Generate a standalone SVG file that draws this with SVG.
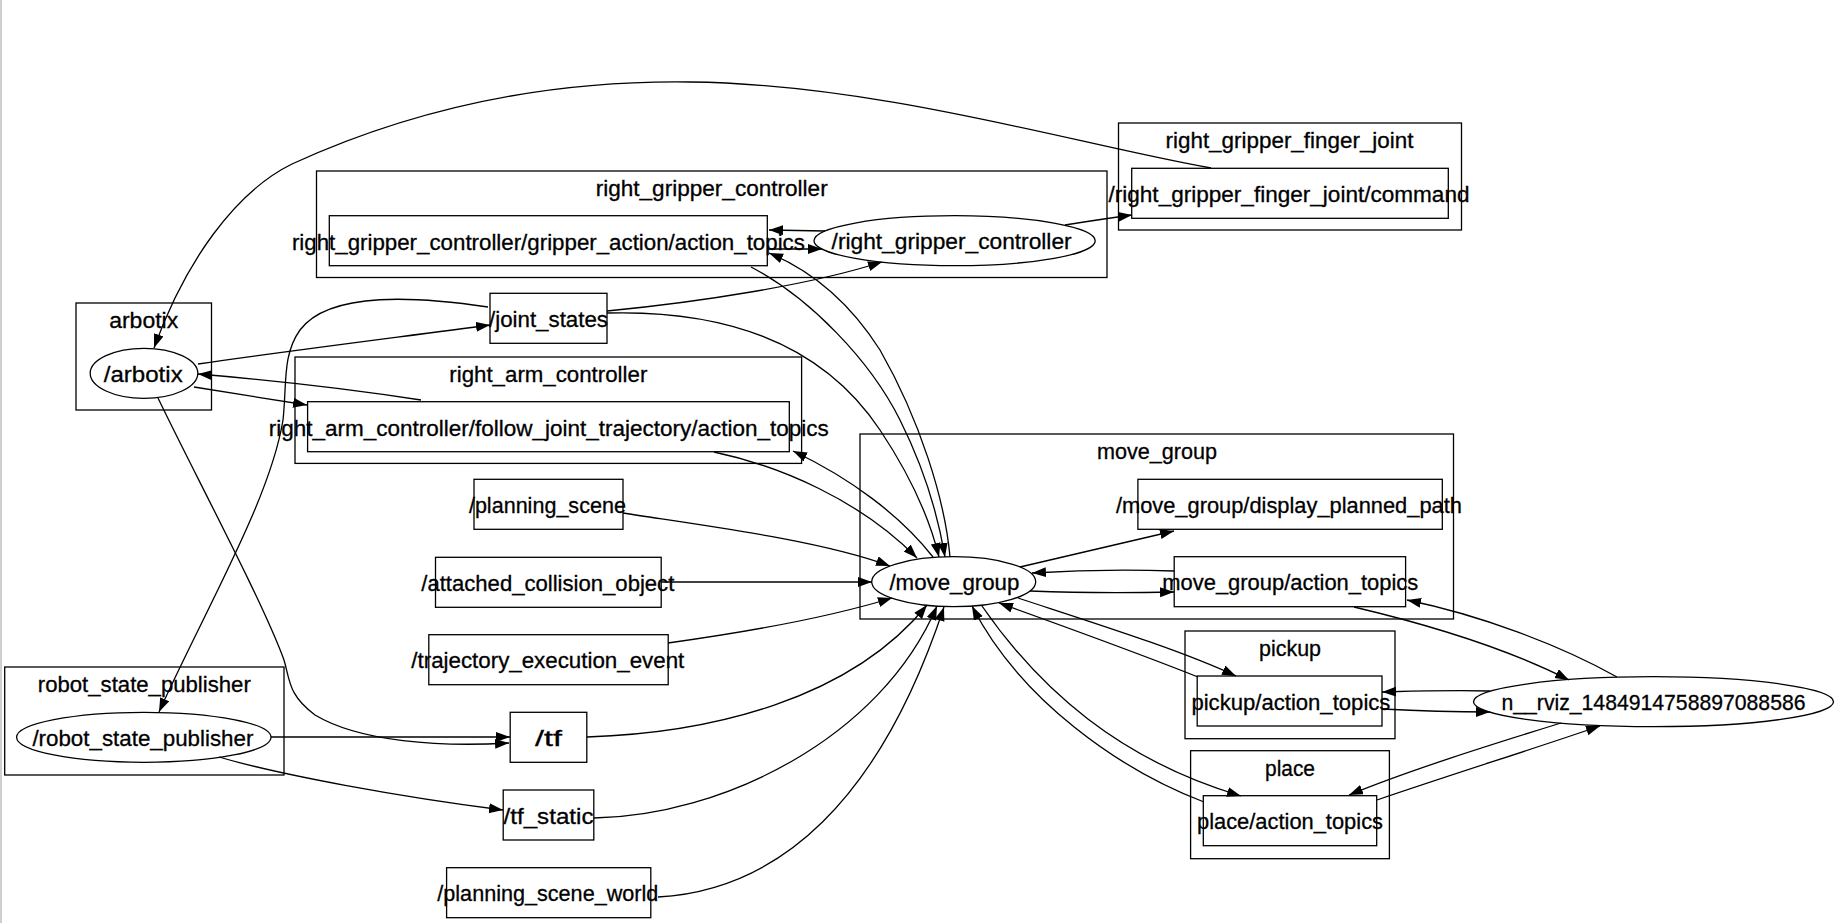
<svg xmlns="http://www.w3.org/2000/svg" width="1835" height="923" viewBox="0 0 1835 923">
<style>
.cl{fill:none;stroke:#000;stroke-width:1.3}
.nd{fill:none;stroke:#000;stroke-width:1.3}
.ed{fill:none;stroke:#000;stroke-width:1.3;marker-end:url(#ah)}
text{font-family:"Liberation Sans",Arial,sans-serif;font-size:22px;text-anchor:middle;fill:#000;stroke:#000;stroke-width:0.3}
</style>
<defs>
<marker id="ah" markerUnits="userSpaceOnUse" markerWidth="15" markerHeight="11" refX="14" refY="5" orient="auto">
<path d="M0,0 L14,5 L0,10 z" fill="#000"/>
</marker>
</defs>
<rect x="0" y="0" width="1835" height="923" fill="#fff"/>
<line x1="1" y1="0" x2="1" y2="923" stroke="#cfcfcf" stroke-width="2"/>

<g id="clusters">
<g id="cl_right_gripper_finger_joint"><rect class="cl" x="1118.5" y="123" width="343" height="107"/><text x="1289.5" y="147.5" textLength="248" lengthAdjust="spacingAndGlyphs">right_gripper_finger_joint</text></g>
<g id="cl_right_gripper_controller"><rect class="cl" x="316.5" y="171" width="790.5" height="106.5"/><text x="711.7" y="195.5" textLength="232" lengthAdjust="spacingAndGlyphs">right_gripper_controller</text></g>
<g id="cl_arbotix"><rect class="cl" x="76" y="303" width="135.5" height="107"/><text x="143.7" y="327.5" textLength="69" lengthAdjust="spacingAndGlyphs">arbotix</text></g>
<g id="cl_right_arm_controller"><rect class="cl" x="295" y="357" width="506.6" height="106.4"/><text x="548.3" y="381.5" textLength="198" lengthAdjust="spacingAndGlyphs">right_arm_controller</text></g>
<g id="cl_move_group"><rect class="cl" x="860" y="434" width="593.5" height="185"/><text x="1157" y="458.5" textLength="120" lengthAdjust="spacingAndGlyphs">move_group</text></g>
<g id="cl_robot_state_publisher"><rect class="cl" x="4.7" y="667" width="279.3" height="108"/><text x="144.3" y="691.5" textLength="213" lengthAdjust="spacingAndGlyphs">robot_state_publisher</text></g>
<g id="cl_pickup"><rect class="cl" x="1185" y="631" width="210" height="107.7"/><text x="1290" y="655.5" textLength="62" lengthAdjust="spacingAndGlyphs">pickup</text></g>
<g id="cl_place"><rect class="cl" x="1190.6" y="750.7" width="198.8" height="108"/><text x="1290" y="775.5" textLength="50" lengthAdjust="spacingAndGlyphs">place</text></g>
</g>

<g id="connectors">
<path class="ed" d="M1211,168 C1080,145 880,84 690,82 C540,80 410,110 292,164 C235,192 185,262 154,348"/>
<path class="ed" d="M198,364 C280,352 400,337 490,325"/>
<path class="ed" d="M194,387 C230,393 270,399 307,405"/>
<path class="ed" d="M421,400 C350,389 270,380 198,374"/>
<path class="ed" d="M488,307 C420,297 330,290 300,330 C282,355 287,385 283,420 C270,500 205,610 159,712"/>
<path class="ed" d="M158,398 C195,475 262,600 284,660 C290,680 288,695 315,715 C360,742 440,747 509,743"/>
<path class="ed" d="M271,737 L510,737"/>
<path class="ed" d="M219,757 C280,775 400,797 503,810"/>
<path class="ed" d="M607,311 C700,302 810,285 882,262"/>
<path class="ed" d="M607,313 C720,310 820,340 880,430 C910,475 930,520 939,557"/>
<path class="ed" d="M751,267 C810,298 870,360 900,420 C925,470 938,515 945,557"/>
<path class="ed" d="M950,557 C945,500 920,420 880,350 C845,295 805,268 769,253"/>
<path class="ed" d="M825,231 L769,230"/>
<path class="ed" d="M768,249 L822,249"/>
<path class="ed" d="M1065,225 C1090,221 1110,218 1132,215"/>
<path class="ed" d="M714,452 C780,466 860,500 917,558"/>
<path class="ed" d="M933,557 C900,515 850,478 793,451"/>
<path class="ed" d="M623,513 C700,525 820,540 890,566"/>
<path class="ed" d="M661,582 L872,582"/>
<path class="ed" d="M668,643 C740,633 830,617 892,598"/>
<path class="ed" d="M587,737 C710,733 850,700 927,605"/>
<path class="ed" d="M594,818 C720,816 880,740 937,606"/>
<path class="ed" d="M658,897 C780,890 880,800 944,607"/>
<path class="ed" d="M1020,567 L1174,531"/>
<path class="ed" d="M1174,571 C1120,569 1080,570 1032,573"/>
<path class="ed" d="M1030,591 C1080,593 1130,593 1174,592"/>
<path class="ed" d="M1354,607 C1430,625 1510,650 1569,680"/>
<path class="ed" d="M1617,677 C1560,645 1480,615 1407,600"/>
<path class="ed" d="M1018,598 C1100,625 1180,650 1236,676"/>
<path class="ed" d="M1198,677 C1130,650 1060,625 999,603"/>
<path class="ed" d="M982,606 C1040,690 1120,760 1241,796"/>
<path class="ed" d="M1204,802 C1120,770 1020,700 972,606"/>
<path class="ed" d="M1490,691 C1450,690 1420,691 1382,692"/>
<path class="ed" d="M1382,709 C1420,711 1450,712 1490,712"/>
<path class="ed" d="M1561,723 C1490,745 1410,770 1349,795"/>
<path class="ed" d="M1377,800 C1450,775 1530,750 1600,726"/>
</g>

<g id="n_rgfj_command"><rect class="nd" x="1131.7" y="168.3" width="316.6" height="50"/><text x="1289" y="202" textLength="361" lengthAdjust="spacingAndGlyphs">/right_gripper_finger_joint/command</text></g>
<g id="n_rgc_action"><rect class="nd" x="329.3" y="215.7" width="438" height="50"/><text x="548.4" y="249.5" textLength="513" lengthAdjust="spacingAndGlyphs">right_gripper_controller/gripper_action/action_topics</text></g>
<g id="n_right_gripper_controller"><ellipse class="nd" cx="954.6" cy="240.7" rx="140.6" ry="25"/><text x="951.6" y="249.2" textLength="240" lengthAdjust="spacingAndGlyphs">/right_gripper_controller</text></g>
<g id="n_joint_states"><rect class="nd" x="490" y="293.3" width="117" height="50"/><text x="548.5" y="327" textLength="119" lengthAdjust="spacingAndGlyphs">/joint_states</text></g>
<g id="n_arbotix"><ellipse class="nd" cx="144" cy="373.3" rx="53.8" ry="25"/><text x="143.2" y="381.8" textLength="79" lengthAdjust="spacingAndGlyphs">/arbotix</text></g>
<g id="n_rac_fjt"><rect class="nd" x="307.6" y="401.7" width="481.7" height="50"/><text x="548.7" y="435.5" textLength="560" lengthAdjust="spacingAndGlyphs">right_arm_controller/follow_joint_trajectory/action_topics</text></g>
<g id="n_planning_scene"><rect class="nd" x="474" y="479.3" width="149" height="50"/><text x="547.4" y="513" textLength="157" lengthAdjust="spacingAndGlyphs">/planning_scene</text></g>
<g id="n_attached_collision_object"><rect class="nd" x="435.5" y="557.3" width="225.7" height="50"/><text x="547.8" y="591" textLength="253" lengthAdjust="spacingAndGlyphs">/attached_collision_object</text></g>
<g id="n_trajectory_execution_event"><rect class="nd" x="428.8" y="634.7" width="239.4" height="50"/><text x="547.8" y="668.4" textLength="273" lengthAdjust="spacingAndGlyphs">/trajectory_execution_event</text></g>
<g id="n_tf"><rect class="nd" x="510.2" y="712.3" width="76.6" height="50"/><text x="548.4" y="746" textLength="27" lengthAdjust="spacingAndGlyphs">/tf</text></g>
<g id="n_tf_static"><rect class="nd" x="503.2" y="790" width="90.6" height="50"/><text x="548.5" y="823.7" textLength="90" lengthAdjust="spacingAndGlyphs">/tf_static</text></g>
<g id="n_planning_scene_world"><rect class="nd" x="446.6" y="867.7" width="204.2" height="50"/><text x="547.8" y="901.4" textLength="221" lengthAdjust="spacingAndGlyphs">/planning_scene_world</text></g>
<g id="n_robot_state_publisher"><ellipse class="nd" cx="143.8" cy="737.3" rx="127.2" ry="25"/><text x="142.9" y="745.8" textLength="221" lengthAdjust="spacingAndGlyphs">/robot_state_publisher</text></g>
<g id="n_move_group"><ellipse class="nd" cx="953.7" cy="581.7" rx="82" ry="25"/><text x="954.4" y="590.2" textLength="130" lengthAdjust="spacingAndGlyphs">/move_group</text></g>
<g id="n_display_planned_path"><rect class="nd" x="1137.9" y="479.3" width="304.4" height="50"/><text x="1288.9" y="513" textLength="346" lengthAdjust="spacingAndGlyphs">/move_group/display_planned_path</text></g>
<g id="n_mg_action_topics"><rect class="nd" x="1174.2" y="556.7" width="231.4" height="50"/><text x="1290.3" y="590.4" textLength="256" lengthAdjust="spacingAndGlyphs">move_group/action_topics</text></g>
<g id="n_pickup_action_topics"><rect class="nd" x="1197.2" y="676" width="184.8" height="50"/><text x="1290.9" y="709.7" textLength="199" lengthAdjust="spacingAndGlyphs">pickup/action_topics</text></g>
<g id="n_place_action_topics"><rect class="nd" x="1203.3" y="795.7" width="173.4" height="50"/><text x="1290" y="829.4" textLength="186" lengthAdjust="spacingAndGlyphs">place/action_topics</text></g>
<g id="n_rviz"><ellipse class="nd" cx="1653.5" cy="701.7" rx="180" ry="25"/><text x="1653.5" y="710.2" textLength="304" lengthAdjust="spacingAndGlyphs">n__rviz_1484914758897088586</text></g>
</svg>
